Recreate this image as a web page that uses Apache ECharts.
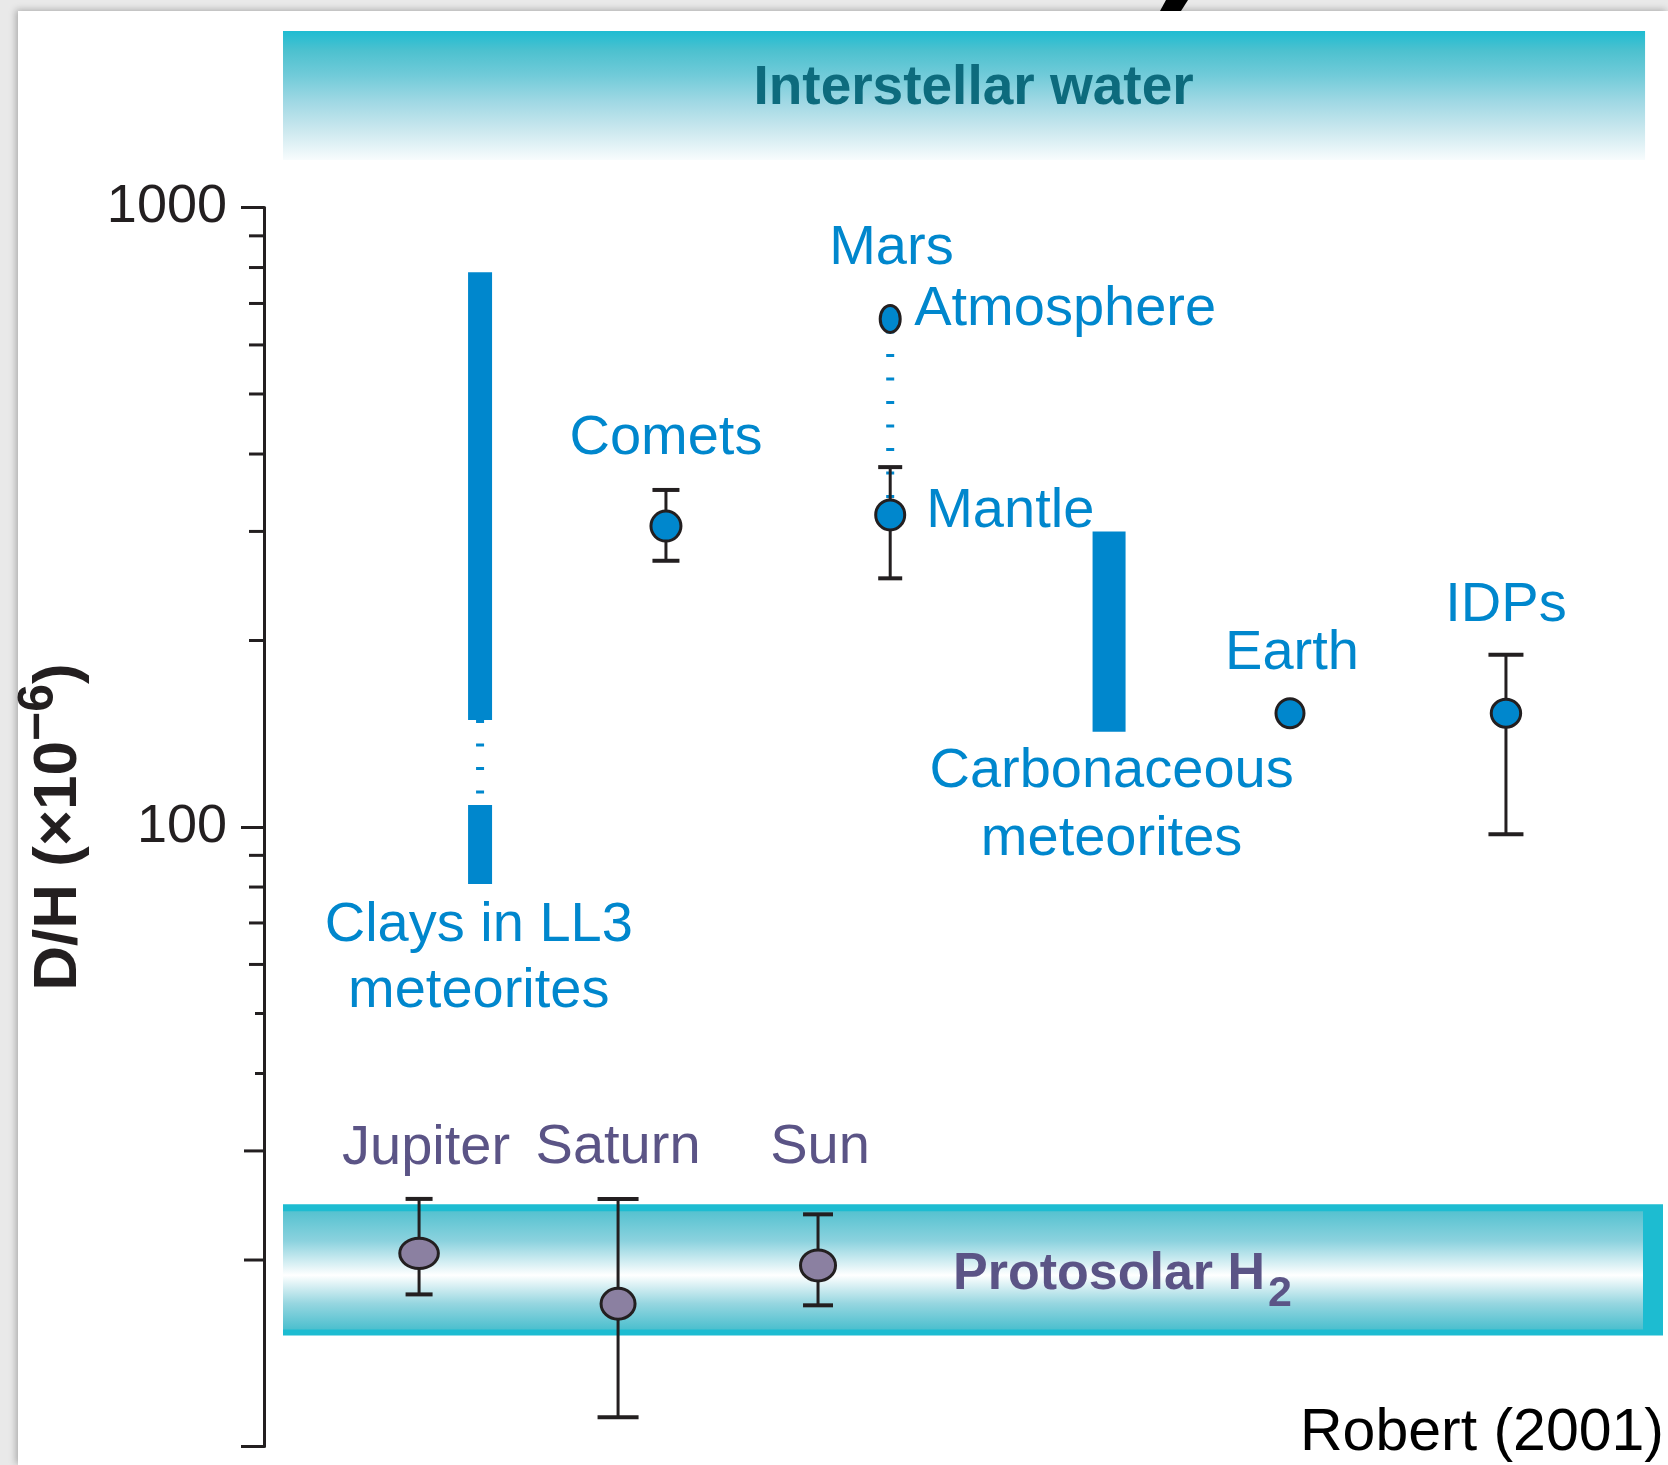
<!DOCTYPE html>
<html>
<head>
<meta charset="utf-8">
<script src="https://cdn.jsdelivr.net/npm/echarts@6/dist/echarts.min.js"></script>
<style>
html,body{margin:0;padding:0;width:1668px;height:1465px;overflow:hidden;background:#e9e9e9;}
#card{position:absolute;left:18px;top:11px;width:1650px;height:1454px;background:#fff;box-shadow:-2px -1px 7px rgba(0,0,0,0.28);}
#chart{position:absolute;left:0;top:0;width:1668px;height:1465px;}
</style>
</head>
<body>
<div id="card"></div>
<div id="chart"></div>
<script>
// ===================== DATA =====================
// y axis (log scale, D/H x 10^-6)
const yTickValues = [10, 100, 1000];
const yTickLabels = ['', '100', '1000'];
const minorTickValues = [20, 30, 40, 50, 60, 70, 80, 90, 200, 300, 400, 500, 600, 700, 800, 900];

// horizontal layout scale: slots 0-100 across the bands, y axis sits slightly left of slot 0
const slotMin = -1.377, slotMax = 100;

// point measurements (slot = horizontal position on the 0-100 scale)
const pointNames  = ['Comets', 'Mars Atmosphere', 'Mars Mantle', 'Earth', 'IDPs', 'Jupiter', 'Saturn', 'Sun'];
const pointSlots  = [27.75, 44.0, 44.0, 72.97, 88.62, 9.86, 24.28, 38.77];
const pointValues = [306, 661, 319, 152.6, 152.6, 20.5, 17.0, 19.6];
const pointLow    = [269, null, 252, null, 97.3, 17.6, 11.15, 16.9];
const pointHigh   = [350, null, 381, null, 189.7, 25.1, 25.1, 23.7];

// range bars (solid / uncertain dotted parts)
const segmentGroup = ['Clays in LL3 meteorites', 'Clays in LL3 meteorites', 'Clays in LL3 meteorites', 'Carbonaceous meteorites', 'Mars'];
const segmentSlots = [14.28, 14.28, 14.28, 59.86, 44.0];
const segmentLow   = [80.9, 108.5, 148.8, 142.5, 319];
const segmentHigh  = [108.5, 148.8, 786, 300, 661];
const segmentKind  = ['solid', 'dotted', 'solid', 'solid', 'dotted'];

// reference bands
const bandNames     = ['Interstellar water', 'Protosolar H2'];
const bandSlotStart = [0, 0];
const bandSlotEnd   = [98.7, 100];
const bandLow       = [1193, 15.1];
const bandHigh      = [1928, 24.6];

// text labels
const labelTexts = ['Comets', 'Mars', 'Atmosphere', 'Mantle', 'Earth', 'IDPs',
  'Carbonaceous\nmeteorites', 'Clays in LL3\nmeteorites', 'Jupiter', 'Saturn', 'Sun'];

// ===================== STYLE =====================
const BLUE = '#0087cd', PURPLE_FILL = '#8b80a1', PURPLE_TEXT = '#5b5486', INK = '#231f20';
const TEAL = '#1dbcd1', TEAL_TEXT = '#0d6b7d';
const FONT = "'Liberation Sans', Arial, Helvetica, sans-serif";

const pointStyle = {
  'Comets':          {fill: BLUE, rx: 15, ry: 15, cap: 27},
  'Mars Atmosphere': {fill: BLUE, rx: 10, ry: 13.5, cap: 0},
  'Mars Mantle':     {fill: BLUE, rx: 14.5, ry: 15, cap: 24},
  'Earth':           {fill: BLUE, rx: 14, ry: 14.5, cap: 0},
  'IDPs':            {fill: BLUE, rx: 14.7, ry: 14, cap: 35},
  'Jupiter':         {fill: PURPLE_FILL, rx: 19.3, ry: 15.2, cap: 27},
  'Saturn':          {fill: PURPLE_FILL, rx: 17, ry: 15.5, cap: 41},
  'Sun':             {fill: PURPLE_FILL, rx: 17.5, ry: 15.5, cap: 30}
};
const segmentStyle = {
  'Clays in LL3 meteorites': {width: 24, dashOffset: 0},
  'Carbonaceous meteorites': {width: 33, dashOffset: 0},
  'Mars': {width: 8, dashOffset: 11.8}
};
const labelLayout = {
  'Comets':     {point: 'Comets', dx: 0, dy: -88, align: 'center', color: BLUE},
  'Mars':       {point: 'Mars Atmosphere', dx: -61, dy: -70, align: 'left', color: BLUE},
  'Atmosphere': {point: 'Mars Atmosphere', dx: 24, dy: -9, align: 'left', color: BLUE},
  'Mantle':     {point: 'Mars Mantle', dx: 36, dy: -3, align: 'left', color: BLUE},
  'Earth':      {point: 'Earth', dx: 2, dy: -60, align: 'center', color: BLUE},
  'IDPs':       {point: 'IDPs', dx: 0, dy: -108, align: 'center', color: BLUE},
  'Carbonaceous\nmeteorites': {range: 'Carbonaceous meteorites', dx: 2.5, dy: 40, lh: 68, align: 'center', color: BLUE},
  'Clays in LL3\nmeteorites': {range: 'Clays in LL3 meteorites', dx: -1.3, dy: 42, lh: 66, align: 'center', color: BLUE},
  'Jupiter':    {point: 'Jupiter', dx: 7, dy: -105, align: 'center', color: PURPLE_TEXT},
  'Saturn':     {point: 'Saturn', dx: 0, dy: -156, align: 'center', color: PURPLE_TEXT},
  'Sun':        {point: 'Sun', dx: 2, dy: -118, align: 'center', color: PURPLE_TEXT}
};
function minorTickLen(v) {
  if (v === 20 || v === 30) return 20;
  if (v === 40 || v === 50) return 9;
  return 15;
}

function measure(text, font) {
  const c = measure.c || (measure.c = document.createElement('canvas').getContext('2d'));
  c.font = font;
  return c.measureText(text).width;
}

// ===================== RENDERERS =====================
function bandRender(params, api) {
  const i = params.dataIndex;
  const tl = api.coord([bandSlotStart[i], bandHigh[i]]);
  const br = api.coord([bandSlotEnd[i], bandLow[i]]);
  const x = tl[0], y = tl[1], w = br[0] - tl[0], h = br[1] - tl[1];
  const cx = x + w / 2, cy = y + h / 2;
  const ch = [];
  if (i === 0) {
    ch.push({type: 'rect', shape: {x, y, width: w, height: h}, style: {
      fill: new echarts.graphic.LinearGradient(0, 0, 0, 1, [
        {offset: 0, color: '#1ebcd2'}, {offset: 0.15, color: '#4cc1cf'},
        {offset: 0.35, color: '#72cbd9'}, {offset: 0.55, color: '#a0d8e4'},
        {offset: 0.78, color: '#cde9ef'}, {offset: 1, color: '#f8fcfd'}])}});
    ch.push({type: 'text', x: cx + 9.5, y: cy - 7, style: {text: bandNames[0], fill: TEAL_TEXT,
      fontSize: 55, fontWeight: 'bold', fontFamily: FONT, align: 'center', verticalAlign: 'middle'}});
  } else {
    ch.push({type: 'rect', shape: {x, y, width: w, height: h}, style: {fill: TEAL}});
    ch.push({type: 'rect', shape: {x, y: y + 7, width: w - 20, height: h - 13}, style: {
      fill: new echarts.graphic.LinearGradient(0, 0, 0, 1, [
        {offset: 0, color: '#56c2d0'}, {offset: 0.25, color: '#8bd2de'},
        {offset: 0.54, color: '#ffffff'}, {offset: 0.78, color: '#96d6e0'},
        {offset: 1, color: '#4bbfce'}])}});
    const main = 'Protosolar H';
    const mainFont = 'bold 52px ' + FONT;
    const lx = cx - 20, ly = cy + 5;
    ch.push({type: 'text', x: lx, y: ly, style: {text: main, fill: PURPLE_TEXT, fontSize: 52,
      fontWeight: 'bold', fontFamily: FONT, align: 'left', verticalAlign: 'middle'}});
    ch.push({type: 'text', x: lx + measure(main, mainFont) + 3, y: ly + 19.5, style: {text: '2', fill: PURPLE_TEXT,
      fontSize: 43, fontWeight: 'bold', fontFamily: FONT, align: 'left', verticalAlign: 'middle'}});
  }
  return {type: 'group', children: ch};
}

function minorTickRender(params, api) {
  const v = minorTickValues[params.dataIndex];
  const p = api.coord([slotMin, v]);
  return {type: 'line', shape: {x1: p[0] - minorTickLen(v), y1: p[1], x2: p[0], y2: p[1]},
    style: {stroke: INK, lineWidth: 3}};
}

function segmentRender(params, api) {
  const i = params.dataIndex;
  const st = segmentStyle[segmentGroup[i]];
  const top = api.coord([segmentSlots[i], segmentHigh[i]]);
  const bot = api.coord([segmentSlots[i], segmentLow[i]]);
  if (segmentKind[i] === 'solid') {
    return {type: 'rect', shape: {x: top[0] - st.width / 2, y: top[1], width: st.width, height: bot[1] - top[1]},
      style: {fill: BLUE}};
  }
  return {type: 'line', shape: {x1: top[0], y1: top[1], x2: bot[0], y2: bot[1]},
    style: {stroke: BLUE, lineWidth: 8, lineDash: [3, 20.5], lineDashOffset: st.dashOffset}};
}

function pointRender(params, api) {
  const i = params.dataIndex;
  const st = pointStyle[pointNames[i]];
  const c = api.coord([pointSlots[i], pointValues[i]]);
  const ch = [];
  if (pointLow[i] != null) {
    const hi = api.coord([pointSlots[i], pointHigh[i]]);
    const lo = api.coord([pointSlots[i], pointLow[i]]);
    ch.push({type: 'line', shape: {x1: c[0], y1: hi[1], x2: c[0], y2: lo[1]}, style: {stroke: INK, lineWidth: 3}});
    ch.push({type: 'line', shape: {x1: c[0] - st.cap / 2, y1: hi[1], x2: c[0] + st.cap / 2, y2: hi[1]}, style: {stroke: INK, lineWidth: 4}});
    ch.push({type: 'line', shape: {x1: c[0] - st.cap / 2, y1: lo[1], x2: c[0] + st.cap / 2, y2: lo[1]}, style: {stroke: INK, lineWidth: 4}});
  }
  ch.push({type: 'ellipse', shape: {cx: c[0], cy: c[1], rx: st.rx, ry: st.ry},
    style: {fill: st.fill, stroke: INK, lineWidth: 3}});
  return {type: 'group', children: ch};
}

function labelRender(params, api) {
  const text = labelTexts[params.dataIndex];
  const L = labelLayout[text];
  let anchor;
  if (L.point) {
    const k = pointNames.indexOf(L.point);
    anchor = api.coord([pointSlots[k], pointValues[k]]);
  } else {
    let lowest = Infinity, slot = 0;
    segmentGroup.forEach((g, k) => { if (g === L.range && segmentLow[k] < lowest) { lowest = segmentLow[k]; slot = segmentSlots[k]; } });
    anchor = api.coord([slot, lowest]);
  }
  const lines = text.split('\n');
  return {type: 'group', children: lines.map((t, j) => ({
    type: 'text', x: anchor[0] + L.dx, y: anchor[1] + L.dy + j * (L.lh || 0),
    style: {text: t, fill: L.color, fontSize: 56, fontFamily: FONT, align: L.align, verticalAlign: 'middle'}
  }))};
}

// ===================== CHART =====================
const chart = echarts.init(document.getElementById('chart'), null, {renderer: 'canvas'});
const option = {
  animation: false,
  backgroundColor: 'transparent',
  grid: {left: 264, right: 5, top: 207.5, bottom: 18.5, containLabel: false},
  xAxis: {type: 'value', min: slotMin, max: slotMax, show: false},
  yAxis: {
    type: 'log', logBase: 10, min: 10, max: 1000,
    axisLine: {show: true, onZero: false, lineStyle: {color: INK, width: 3}},
    axisTick: {show: true, length: 23, lineStyle: {color: INK, width: 3}},
    axisLabel: {show: true, margin: 37, fontSize: 54, fontFamily: FONT, color: INK,
      formatter: v => { const k = yTickValues.indexOf(Math.round(v)); return k >= 0 ? yTickLabels[k] : ''; }},
    splitLine: {show: false},
    name: '{t|D/H (×10}{s|−6}{t|)}',
    nameLocation: 'middle', nameRotate: 90, nameGap: 174,
    nameTextStyle: {rich: {
      t: {fontSize: 62, fontWeight: 'bold', fontFamily: FONT, color: INK, lineHeight: 76, verticalAlign: 'bottom'},
      s: {fontSize: 50, fontWeight: 'bold', fontFamily: FONT, color: INK, verticalAlign: 'top'}
    }}
  },
  graphic: [
    {type: 'polygon', shape: {points: [[1166, 0], [1188, 0], [1181, 11], [1160, 11]]}, style: {fill: '#000'}},
    {type: 'text', right: 4, top: 1404, style: {text: 'Robert (2001)', fill: '#000', fontSize: 59, fontFamily: FONT}}
  ],
  series: [
    {type: 'custom', name: 'bands', z: 1, silent: true, renderItem: bandRender,
      data: bandNames.map((n, i) => [bandSlotStart[i], bandLow[i], bandSlotEnd[i], bandHigh[i]]),
      encode: {x: [0, 2], y: [1, 3]}},
    {type: 'custom', name: 'minor ticks', z: 2, silent: true, renderItem: minorTickRender,
      data: minorTickValues.map(v => [slotMin, v]), encode: {x: 0, y: 1}},
    {type: 'custom', name: 'ranges', z: 3, silent: true, renderItem: segmentRender,
      data: segmentSlots.map((s, i) => [s, segmentLow[i], segmentHigh[i]]), encode: {x: 0, y: [1, 2]}},
    {type: 'custom', name: 'points', z: 4, silent: true, renderItem: pointRender,
      data: pointSlots.map((s, i) => [s, pointValues[i]]), encode: {x: 0, y: 1}},
    {type: 'custom', name: 'labels', z: 5, silent: true, renderItem: labelRender,
      data: labelTexts.map(() => [50, 100]), encode: {x: 0, y: 1}}
  ]
};
chart.setOption(option);
</script>
</body>
</html>
